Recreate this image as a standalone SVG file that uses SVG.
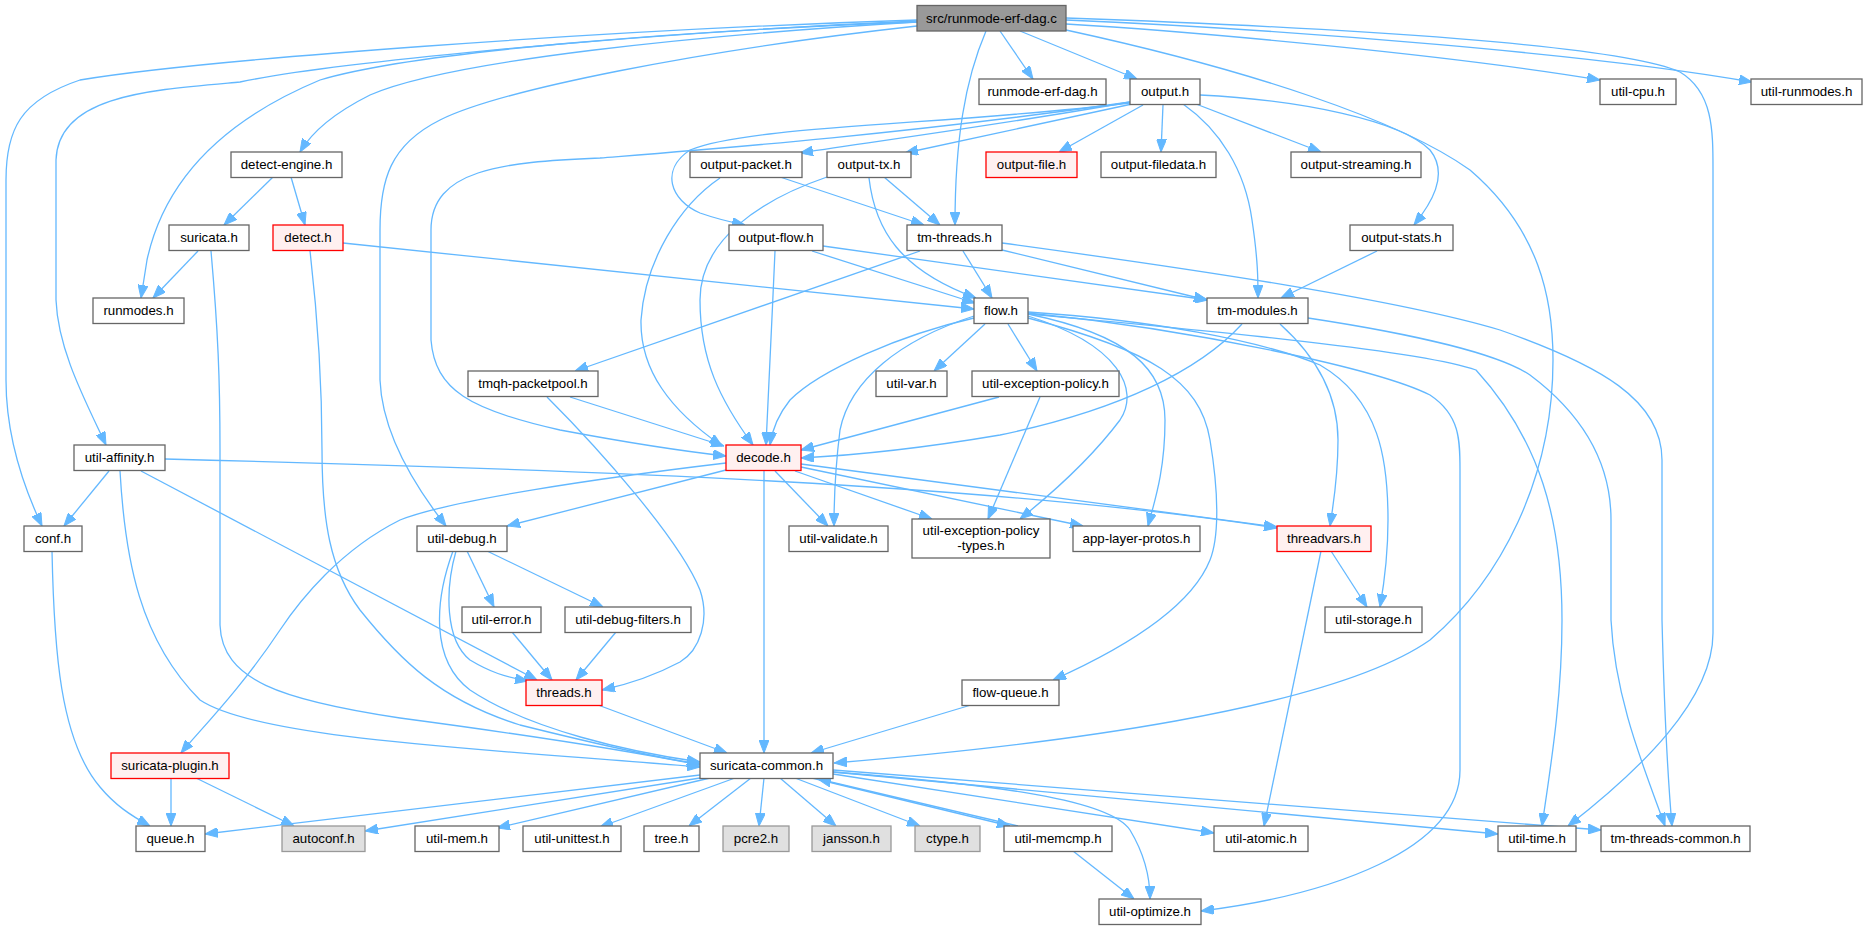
<svg xmlns="http://www.w3.org/2000/svg" width="1867" height="931" viewBox="0 0 1867 931">
<style>
rect{stroke-width:1.3}
.n rect{fill:#ffffff;stroke:#666666}
.r rect{fill:#fff0f0;stroke:#ff0000}
.g rect{fill:#e0e0e0;stroke:#999999}
.s rect{fill:#999999;stroke:#666666}
text{font-family:"Liberation Sans",Arial,sans-serif;font-size:13.3px;fill:#000000;text-anchor:middle}
#edges path{fill:none;stroke:#63b8ff;stroke-width:1.3;marker-end:url(#ah)}
</style>
<defs>
<marker id="ah" viewBox="0 0 13 10" refX="13" refY="5" markerWidth="13" markerHeight="10" markerUnits="userSpaceOnUse" orient="auto">
<path d="M0,0 L13,5 L0,10 z" fill="#63b8ff" stroke="#63b8ff" stroke-width="1"/>
</marker>
</defs>
<rect width="1867" height="931" fill="#ffffff"/>
<g id="edges">
<!-- src -->
<path d="M1000,31 L1033,79"/>
<path d="M1020,31 L1137,79"/>
<path d="M1066,24 C1200,32 1450,55 1600,80"/>
<path d="M1066,20 C1300,30 1600,55 1752,82"/>
<path d="M1066,18 C1350,28 1620,45 1680,72 C1713,92 1713,130 1713,170 L1713,633 C1713,700 1640,770 1568,826"/>
<path d="M986,31 C965,80 955,140 955,225"/>
<path d="M1066,30 C1250,70 1400,120 1470,170 C1540,230 1553,300 1553,360 C1553,480 1500,580 1430,640 C1330,710 1050,745 834,763"/>
<path d="M917,22 C700,35 450,60 370,95 C330,115 310,135 300,152"/>
<path d="M917,22 C700,30 420,50 320,80 C200,130 160,200 147,260 L141,298"/>
<path d="M917,21 C600,35 320,65 240,82 C150,90 58,95 56,160 L56,300 C58,350 85,400 106,445"/>
<path d="M917,20 C600,30 200,60 80,80 C20,100 6,130 6,180 L6,380 C6,440 25,490 42,526"/>
<path d="M917,26 C700,50 500,90 440,120 C390,145 380,180 380,230 L380,380 C382,430 410,480 446,526"/>
<!-- output.h -->
<path d="M1130,102 C1000,125 850,145 800,153"/>
<path d="M1132,104 L905,153"/>
<path d="M1143,105 L1059,152"/>
<path d="M1163,105 L1161,152"/>
<path d="M1196,104 L1321,152"/>
<path d="M1200,95 C1300,100 1400,120 1430,150 C1450,175 1430,205 1414,225"/>
<path d="M1183,104 C1220,130 1245,170 1252,220 C1258,260 1258,280 1258,298"/>
<path d="M1130,103 C950,125 750,125 690,150 C660,170 670,200 700,213 C720,220 735,223 745,225"/>
<path d="M1130,102 C900,135 700,150 600,158 C500,162 431,170 431,230 L431,340 C435,390 470,410 560,430 C640,445 690,452 726,456"/>
<!-- output-packet -->
<path d="M780,177 L924,225"/>
<path d="M720,178 C680,205 645,260 641,320 C640,370 670,410 722,446"/>
<!-- output-tx -->
<path d="M884,177 L940,225"/>
<path d="M869,178 C875,230 900,270 976,298"/>
<path d="M827,177 C760,200 700,240 700,300 C700,360 720,400 753,445"/>
<!-- output-flow -->
<path d="M812,251 L975,303"/>
<path d="M823,246 L1208,300"/>
<path d="M775,251 C772,320 768,400 766,445"/>
<!-- tm-threads -->
<path d="M963,251 L992,298"/>
<path d="M1002,250 L1207,300"/>
<path d="M920,251 L575,371"/>
<path d="M1002,243 C1200,270 1400,300 1500,330 C1600,365 1662,400 1662,460 L1662,620 C1664,700 1668,780 1672,826"/>
<!-- detect-engine -->
<path d="M273,177 L224,225"/>
<path d="M291,177 L305,225"/>
<!-- suricata.h -->
<path d="M198,251 L153,298"/>
<path d="M211,251 C218,330 220,380 220,450 L220,625 C222,680 280,700 400,718 C550,738 650,755 700,765"/>
<!-- detect.h -->
<path d="M343,243 L974,309"/>
<path d="M310,251 C318,320 322,380 322,450 C322,520 330,570 360,610 C400,660 440,700 520,725 C600,745 660,758 700,764"/>
<!-- flow.h -->
<path d="M974,318 C900,335 820,370 790,400 C778,415 772,430 770,445"/>
<path d="M985,324 L934,371"/>
<path d="M1008,324 L1037,371"/>
<path d="M974,316 C900,340 850,380 840,430 C835,470 834,500 834,526"/>
<path d="M1028,316 C1120,345 1140,390 1120,420 C1090,460 1050,495 1020,519"/>
<path d="M1028,314 C1130,335 1165,370 1165,420 C1165,470 1155,500 1148,526"/>
<path d="M1028,318 C1150,350 1200,380 1210,440 C1220,500 1218,540 1210,560 C1190,610 1120,650 1053,680"/>
<path d="M1028,312 C1150,320 1260,340 1320,365 C1380,400 1388,460 1388,520 C1388,560 1383,590 1380,607"/>
<path d="M1028,313 C1200,330 1380,370 1430,395 C1460,415 1460,440 1460,470 L1460,770 C1460,850 1330,895 1201,911"/>
<path d="M1028,314 C1200,330 1420,350 1476,370 C1540,440 1562,520 1562,620 C1562,700 1550,770 1542,826"/>
<!-- tm-modules -->
<path d="M1242,324 C1200,370 1120,410 1000,435 C900,452 840,456 801,458"/>
<path d="M1280,324 C1320,360 1338,400 1338,440 C1338,480 1333,505 1330,526"/>
<path d="M1308,318 C1420,335 1500,355 1530,375 C1590,420 1611,470 1611,520 L1611,620 C1615,700 1645,770 1665,826"/>
<!-- output-stats -->
<path d="M1377,251 L1281,298"/>
<!-- tmqh -->
<path d="M570,397 L724,446"/>
<path d="M547,397 C600,450 680,540 700,590 C710,620 700,650 680,662 C650,678 625,685 602,690"/>
<!-- util-exception-policy -->
<path d="M999,397 L801,450"/>
<path d="M1040,397 L988,519"/>
<!-- util-affinity -->
<path d="M109,471 L64,526"/>
<path d="M165,459 C600,470 1000,485 1277,528"/>
<path d="M141,471 L537,680"/>
<path d="M120,471 C125,560 140,640 200,700 C260,740 500,750 700,767"/>
<!-- conf -->
<path d="M52,551 C54,650 60,740 100,787 C115,805 130,815 150,826"/>
<!-- decode -->
<path d="M726,470 L507,526"/>
<path d="M726,463 C600,478 450,500 400,520 C340,550 300,600 280,630 C240,690 200,730 181,753"/>
<path d="M764,471 L764,753"/>
<path d="M775,471 L828,526"/>
<path d="M795,471 L932,519"/>
<path d="M801,467 L1083,526"/>
<path d="M801,464 L1277,527"/>
<!-- threadvars -->
<path d="M1331,551 L1367,607"/>
<path d="M1321,551 L1264,826"/>
<!-- util-debug -->
<path d="M467,551 L494,607"/>
<path d="M487,551 L603,607"/>
<path d="M456,551 C445,590 445,640 470,660 C490,672 505,677 528,681"/>
<path d="M453,551 C435,600 430,660 470,690 C530,730 630,752 700,762"/>
<path d="M512,632 L552,680"/>
<path d="M616,632 L576,680"/>
<!-- threads, flow-queue -->
<path d="M598,705 L727,753"/>
<path d="M971,705 L811,753"/>
<!-- suricata-plugin -->
<path d="M171,778 L171,826"/>
<path d="M196,778 L294,826"/>
<!-- suricata-common -->
<path d="M700,775 L205,834"/>
<path d="M700,778 L365,831"/>
<path d="M710,778 L497,828"/>
<path d="M735,778 L600,827"/>
<path d="M751,778 L689,826"/>
<path d="M764,778 L759,826"/>
<path d="M780,778 L836,826"/>
<path d="M795,778 L920,826"/>
<path d="M812,778 L1010,826"/>
<path d="M1018,826 L818,779"/>
<path d="M833,774 L1214,833"/>
<path d="M833,772 L1498,834"/>
<path d="M833,770 L1601,830"/>
<path d="M833,772 C1000,785 1110,800 1130,830 C1145,855 1150,880 1150,899"/>
<path d="M1073,851 L1134,899"/>
</g>
<g id="src" class="s"><rect x="917" y="5.5" width="149" height="25.5"/><text x="991.5" y="22.8">src/runmode-erf-dag.c</text></g>
<g id="runmode-erf-dag-h" class="n"><rect x="979" y="79" width="127" height="25.5"/><text x="1042.5" y="96.3">runmode-erf-dag.h</text></g>
<g id="output-h" class="n"><rect x="1130" y="79" width="70" height="25.5"/><text x="1165" y="96.3">output.h</text></g>
<g id="util-cpu-h" class="n"><rect x="1600" y="79" width="76" height="25.5"/><text x="1638" y="96.3">util-cpu.h</text></g>
<g id="util-runmodes-h" class="n"><rect x="1751" y="79" width="111" height="25.5"/><text x="1806.5" y="96.3">util-runmodes.h</text></g>
<g id="detect-engine-h" class="n"><rect x="231" y="152" width="111" height="25.5"/><text x="286.5" y="169.3">detect-engine.h</text></g>
<g id="output-packet-h" class="n"><rect x="690" y="152" width="112" height="25.5"/><text x="746" y="169.3">output-packet.h</text></g>
<g id="output-tx-h" class="n"><rect x="827" y="152" width="84" height="25.5"/><text x="869" y="169.3">output-tx.h</text></g>
<g id="output-file-h" class="r"><rect x="986" y="152" width="91" height="25.5"/><text x="1031.5" y="169.3">output-file.h</text></g>
<g id="output-filedata-h" class="n"><rect x="1101" y="152" width="115" height="25.5"/><text x="1158.5" y="169.3">output-filedata.h</text></g>
<g id="output-streaming-h" class="n"><rect x="1291" y="152" width="130" height="25.5"/><text x="1356" y="169.3">output-streaming.h</text></g>
<g id="suricata-h" class="n"><rect x="169" y="225" width="80" height="25.5"/><text x="209" y="242.3">suricata.h</text></g>
<g id="detect-h" class="r"><rect x="273" y="225" width="70" height="25.5"/><text x="308" y="242.3">detect.h</text></g>
<g id="output-flow-h" class="n"><rect x="729" y="225" width="94" height="25.5"/><text x="776" y="242.3">output-flow.h</text></g>
<g id="tm-threads-h" class="n"><rect x="907" y="225" width="95" height="25.5"/><text x="954.5" y="242.3">tm-threads.h</text></g>
<g id="output-stats-h" class="n"><rect x="1350" y="225" width="103" height="25.5"/><text x="1401.5" y="242.3">output-stats.h</text></g>
<g id="runmodes-h" class="n"><rect x="93" y="298" width="91" height="25.5"/><text x="138.5" y="315.3">runmodes.h</text></g>
<g id="flow-h" class="n"><rect x="974" y="298" width="54" height="25.5"/><text x="1001" y="315.3">flow.h</text></g>
<g id="tm-modules-h" class="n"><rect x="1207" y="298" width="101" height="25.5"/><text x="1257.5" y="315.3">tm-modules.h</text></g>
<g id="tmqh-packetpool-h" class="n"><rect x="468" y="371" width="130" height="25.5"/><text x="533" y="388.3">tmqh-packetpool.h</text></g>
<g id="util-var-h" class="n"><rect x="876" y="371" width="71" height="25.5"/><text x="911.5" y="388.3">util-var.h</text></g>
<g id="util-exception-policy-h" class="n"><rect x="972" y="371" width="147" height="25.5"/><text x="1045.5" y="388.3">util-exception-policy.h</text></g>
<g id="util-affinity-h" class="n"><rect x="74" y="445" width="91" height="25.5"/><text x="119.5" y="462.3">util-affinity.h</text></g>
<g id="decode-h" class="r"><rect x="726" y="445" width="75" height="25.5"/><text x="763.5" y="462.3">decode.h</text></g>
<g id="conf-h" class="n"><rect x="24" y="526" width="58" height="25.5"/><text x="53" y="543.3">conf.h</text></g>
<g id="util-debug-h" class="n"><rect x="417" y="526" width="90" height="25.5"/><text x="462" y="543.3">util-debug.h</text></g>
<g id="util-validate-h" class="n"><rect x="789" y="526" width="99" height="25.5"/><text x="838.5" y="543.3">util-validate.h</text></g>
<g id="util-exception-policy-types-h" class="n"><rect x="912" y="519" width="138" height="39"/><text x="981" y="534.5">util-exception-policy</text><text x="981" y="549.5">-types.h</text></g>
<g id="app-layer-protos-h" class="n"><rect x="1073" y="526" width="127" height="25.5"/><text x="1136.5" y="543.3">app-layer-protos.h</text></g>
<g id="threadvars-h" class="r"><rect x="1277" y="526" width="94" height="25.5"/><text x="1324" y="543.3">threadvars.h</text></g>
<g id="util-error-h" class="n"><rect x="462" y="607" width="79" height="25.5"/><text x="501.5" y="624.3">util-error.h</text></g>
<g id="util-debug-filters-h" class="n"><rect x="565" y="607" width="126" height="25.5"/><text x="628" y="624.3">util-debug-filters.h</text></g>
<g id="util-storage-h" class="n"><rect x="1325" y="607" width="97" height="25.5"/><text x="1373.5" y="624.3">util-storage.h</text></g>
<g id="threads-h" class="r"><rect x="526" y="680" width="76" height="25.5"/><text x="564" y="697.3">threads.h</text></g>
<g id="flow-queue-h" class="n"><rect x="962" y="680" width="97" height="25.5"/><text x="1010.5" y="697.3">flow-queue.h</text></g>
<g id="suricata-plugin-h" class="r"><rect x="111" y="753" width="118" height="25.5"/><text x="170" y="770.3">suricata-plugin.h</text></g>
<g id="suricata-common-h" class="n"><rect x="700" y="753" width="133" height="25.5"/><text x="766.5" y="770.3">suricata-common.h</text></g>
<g id="queue-h" class="n"><rect x="136" y="826" width="69" height="25.5"/><text x="170.5" y="843.3">queue.h</text></g>
<g id="autoconf-h" class="g"><rect x="282" y="826" width="83" height="25.5"/><text x="323.5" y="843.3">autoconf.h</text></g>
<g id="util-mem-h" class="n"><rect x="415" y="826" width="84" height="25.5"/><text x="457" y="843.3">util-mem.h</text></g>
<g id="util-unittest-h" class="n"><rect x="523" y="826" width="98" height="25.5"/><text x="572" y="843.3">util-unittest.h</text></g>
<g id="tree-h" class="n"><rect x="644" y="826" width="55" height="25.5"/><text x="671.5" y="843.3">tree.h</text></g>
<g id="pcre2-h" class="g"><rect x="723" y="826" width="66" height="25.5"/><text x="756" y="843.3">pcre2.h</text></g>
<g id="jansson-h" class="g"><rect x="812" y="826" width="79" height="25.5"/><text x="851.5" y="843.3">jansson.h</text></g>
<g id="ctype-h" class="g"><rect x="915" y="826" width="65" height="25.5"/><text x="947.5" y="843.3">ctype.h</text></g>
<g id="util-memcmp-h" class="n"><rect x="1004" y="826" width="108" height="25.5"/><text x="1058" y="843.3">util-memcmp.h</text></g>
<g id="util-atomic-h" class="n"><rect x="1214" y="826" width="94" height="25.5"/><text x="1261" y="843.3">util-atomic.h</text></g>
<g id="util-time-h" class="n"><rect x="1498" y="826" width="78" height="25.5"/><text x="1537" y="843.3">util-time.h</text></g>
<g id="tm-threads-common-h" class="n"><rect x="1601" y="826" width="149" height="25.5"/><text x="1675.5" y="843.3">tm-threads-common.h</text></g>
<g id="util-optimize-h" class="n"><rect x="1099" y="899" width="102" height="25.5"/><text x="1150" y="916.3">util-optimize.h</text></g>
</svg>
